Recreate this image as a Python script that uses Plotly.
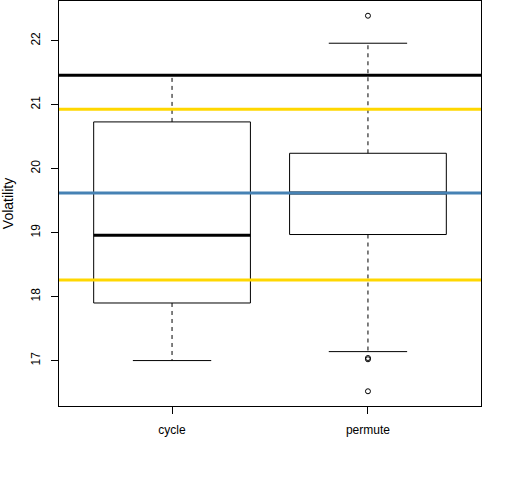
import plotly.graph_objects as go

# box statistics
groups = ["cycle", "permute"]
lower_whisker = [17.00, 17.14]
q1 = [17.90, 18.97]
median = [18.96, 19.62]
q3 = [20.73, 20.24]
upper_whisker = [21.46, 21.96]

# outlying points for each group
outlier_group = ["permute", "permute", "permute", "permute"]
outlier_value = [22.39, 17.04, 17.02, 16.52]

# reference lines drawn over the boxes
black_level = [21.46]
gold_levels = [20.93, 18.26]
blue_level = [19.62]

y_ticks = [17, 18, 19, 20, 21, 22]

box_half = 0.4
cap_half = 0.2

fig = go.Figure()

for i, name in enumerate(groups):
    pos = i + 1

    # box outline
    fig.add_trace(go.Scatter(
        x=[pos - box_half, pos + box_half, pos + box_half, pos - box_half, pos - box_half],
        y=[q1[i], q1[i], q3[i], q3[i], q1[i]],
        mode="lines",
        line=dict(color="black", width=1),
        hoverinfo="skip",
        showlegend=False))

    # median
    fig.add_trace(go.Scatter(
        x=[pos - box_half, pos + box_half],
        y=[median[i], median[i]],
        mode="lines",
        line=dict(color="black", width=3),
        showlegend=False))

    # dashed whiskers
    for a, b in [(q3[i], upper_whisker[i]), (q1[i], lower_whisker[i])]:
        fig.add_trace(go.Scatter(
            x=[pos, pos],
            y=[a, b],
            mode="lines",
            line=dict(color="black", width=1, dash="4px,4px"),
            showlegend=False))

    # whisker caps
    for w in [upper_whisker[i], lower_whisker[i]]:
        fig.add_trace(go.Scatter(
            x=[pos - cap_half, pos + cap_half],
            y=[w, w],
            mode="lines",
            line=dict(color="black", width=1),
            showlegend=False))

# outliers as open circles
fig.add_trace(go.Scatter(
    x=[groups.index(g) + 1 for g in outlier_group],
    y=outlier_value,
    mode="markers",
    marker=dict(symbol="circle-open", size=5, color="black",
                line=dict(color="black", width=1)),
    showlegend=False))

# horizontal reference lines
for v in black_level:
    fig.add_hline(y=v, line=dict(color="black", width=3))
for v in gold_levels:
    fig.add_hline(y=v, line=dict(color="#FFD700", width=3))
for v in blue_level:
    fig.add_hline(y=v, line=dict(color="#4682B4", width=3))

fig.update_layout(
    width=512, height=480, autosize=False,
    margin=dict(l=59, r=31, t=1, b=74),
    paper_bgcolor="white", plot_bgcolor="white",
    font=dict(family="Liberation Sans, Arial, sans-serif", size=12, color="black"),
    showlegend=False)

fig.update_xaxes(
    range=[0.423, 2.577],
    tickvals=[1, 2], ticktext=groups,
    ticks="outside", ticklen=7, tickcolor="black",
    ticklabelstandoff=6,
    showgrid=False, zeroline=False,
    showline=True, mirror=True, linecolor="black", linewidth=1)

fig.update_yaxes(
    range=[16.29, 22.62],
    tickvals=y_ticks,
    tickangle=-90,
    ticks="outside", ticklen=7, tickcolor="black",
    ticklabelstandoff=6,
    showgrid=False, zeroline=False,
    showline=True, mirror=True, linecolor="black", linewidth=1,
    title=dict(text="Volatility", standoff=15))

# drop the default page margin so the figure sits at the window corner
fig.write_html("out.html", config={"displayModeBar": False},
               post_script="document.body.style.margin='0';")
